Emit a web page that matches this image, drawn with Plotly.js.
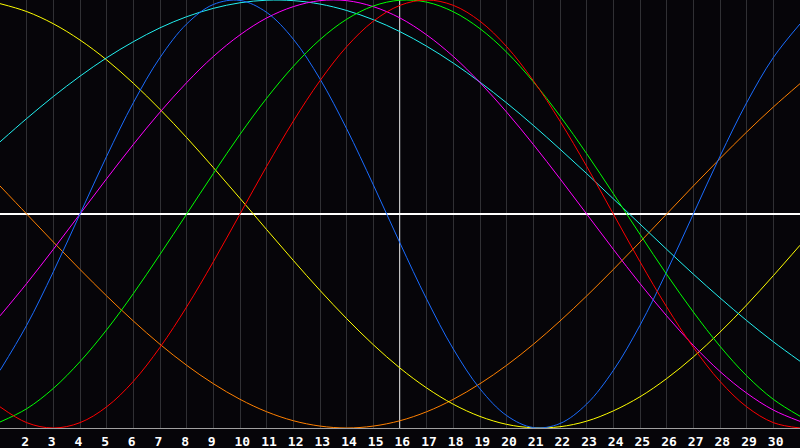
<!DOCTYPE html>
<html>
<head>
<meta charset="utf-8">
<script src="https://cdn.plot.ly/plotly-3.0.1.min.js"></script>
<style>
  html, body { margin: 0; padding: 0; background: #060509; }
  #plot { width: 800px; height: 448px; }
</style>
</head>
<body>
<div id="plot"></div>
<script>
// dias del mes
var dias = [1, 2, 3, 4, 5, 6, 7, 8, 9, 10, 11, 12, 13, 14, 15, 16,
            17, 18, 19, 20, 21, 22, 23, 24, 25, 26, 27, 28, 29, 30, 31];
var etiquetasDias = [2, 3, 4, 5, 6, 7, 8, 9, 10, 11, 12, 13, 14, 15, 16,
                     17, 18, 19, 20, 21, 22, 23, 24, 25, 26, 27, 28, 29, 30];
var hoy = 16;

// valores (porcentaje, -100..100)
var amarillo = [98.3, 94.6, 88.9, 81.3, 72.0, 61.1, 48.9, 35.7, 21.7, 7.3, -7.3, -21.7, -35.7, -48.9, -61.1, -72.0,
                -81.3, -88.9, -94.6, -98.3, -99.9, -99.4, -96.8, -92.0, -85.4, -76.9, -66.8, -55.2, -42.5, -28.8, -14.6];
var cian = [33.7, 44.6, 54.9, 64.4, 73.0, 80.5, 87.0, 92.2, 96.1, 98.7, 99.9, 99.7, 98.1, 95.1, 90.8, 85.2,
            78.4, 70.5, 61.6, 51.9, 41.4, 30.3, 18.9, 7.1, -4.7, -16.5, -28.1, -39.2, -49.8, -59.7, -68.8];
var azul = [-73.1, -52.0, -27.0, 0, 27.0, 52.0, 73.1, 88.8, 97.9, 99.8, 94.2, 81.7, 63.1, 39.8, 13.6, -13.6,
            -39.8, -63.1, -81.7, -94.2, -99.8, -97.9, -88.8, -73.1, -52.0, -27.0, 0, 27.0, 52.0, 73.1, 88.8];
var magenta = [-47.6, -32.5, -16.5, 0, 16.5, 32.5, 47.6, 61.4, 73.6, 83.7, 91.6, 96.9, 99.7, 99.7, 96.9, 91.6,
               83.7, 73.6, 61.4, 47.6, 32.5, 16.5, 0, -16.5, -32.5, -47.6, -61.4, -73.6, -83.7, -91.6, -96.9];
var verde = [-97.2, -91.0, -81.5, -69.0, -54.1, -37.2, -18.9, 0, 18.9, 37.2, 54.1, 69.0, 81.5, 91.0, 97.2, 99.9,
             99.0, 94.5, 86.6, 75.6, 61.8, 45.8, 28.2, 9.5, -9.5, -28.2, -45.8, -61.8, -75.6, -86.6, -94.5];
var rojo = [-90.1, -97.5, -100, -97.5, -90.1, -78.2, -62.3, -43.4, -22.3, 0, 22.3, 43.4, 62.3, 78.2, 90.1, 97.5,
            100, 97.5, 90.1, 78.2, 62.3, 43.4, 22.3, 0, -22.3, -43.4, -62.3, -78.2, -90.1, -97.5, -100];
var naranja = [13.1, 0, -13.1, -25.9, -38.3, -50.0, -60.9, -70.7, -79.3, -86.6, -92.4, -96.6, -99.1, -100, -99.1, -96.6,
               -92.4, -86.6, -79.3, -70.7, -60.9, -50.0, -38.3, -25.9, -13.1, 0, 13.1, 25.9, 38.3, 50.0, 60.9];

(function (document, window) {
    document.addEventListener("DOMContentLoaded", function () {

        var series = [
            { y: naranja, color: '#ff8000' },
            { y: amarillo, color: '#ffff00' },
            { y: cian, color: '#22f0f0' },
            { y: magenta, color: '#ff00ff' },
            { y: azul, color: '#1a6cff' },
            { y: verde, color: '#00ff00' },
            { y: rojo, color: '#ff0000' }
        ];

        var plotData = series.map(function (s) {
            return {
                x: dias, y: s.y, type: 'scatter', mode: 'lines',
                line: { color: s.color, width: 1, shape: 'spline', smoothing: 1 },
                hoverinfo: 'skip'
            };
        });

        var layout = {
            width: 800, height: 448,
            margin: { l: 0, r: 0, t: 0, b: 20, pad: 0 },
            paper_bgcolor: '#060509',
            plot_bgcolor: '#060509',
            showlegend: false,
            xaxis: {
                range: [1, 31], fixedrange: true,
                tickvals: etiquetasDias, ticktext: etiquetasDias.map(String),
                ticks: '', ticklabelposition: 'outside right', ticklabelshift: -6,
                ticklabelstandoff: 1,
                tickfont: { family: 'DejaVu Sans Mono', size: 13, color: '#ffffff', weight: 'bold' },
                showgrid: true, gridcolor: '#303034', gridwidth: 1,
                showline: true, mirror: true, linecolor: '#a0a0a0', linewidth: 1,
                zeroline: false
            },
            yaxis: {
                range: [-100, 100], fixedrange: true,
                showticklabels: false, ticks: '', showgrid: false,
                zeroline: true, zerolinecolor: '#ffffff', zerolinewidth: 1.5,
                showline: true, linecolor: '#a0a0a0', linewidth: 1
            },
            shapes: [{
                type: 'line', xref: 'x', yref: 'paper',
                x0: hoy, x1: hoy, y0: 0, y1: 1,
                line: { color: '#ffffff', width: 1.5 }, layer: 'below'
            }]
        };

        Plotly.newPlot('plot', plotData, layout, { staticPlot: true });
    });
})(document, window);
</script>
</body>
</html>
